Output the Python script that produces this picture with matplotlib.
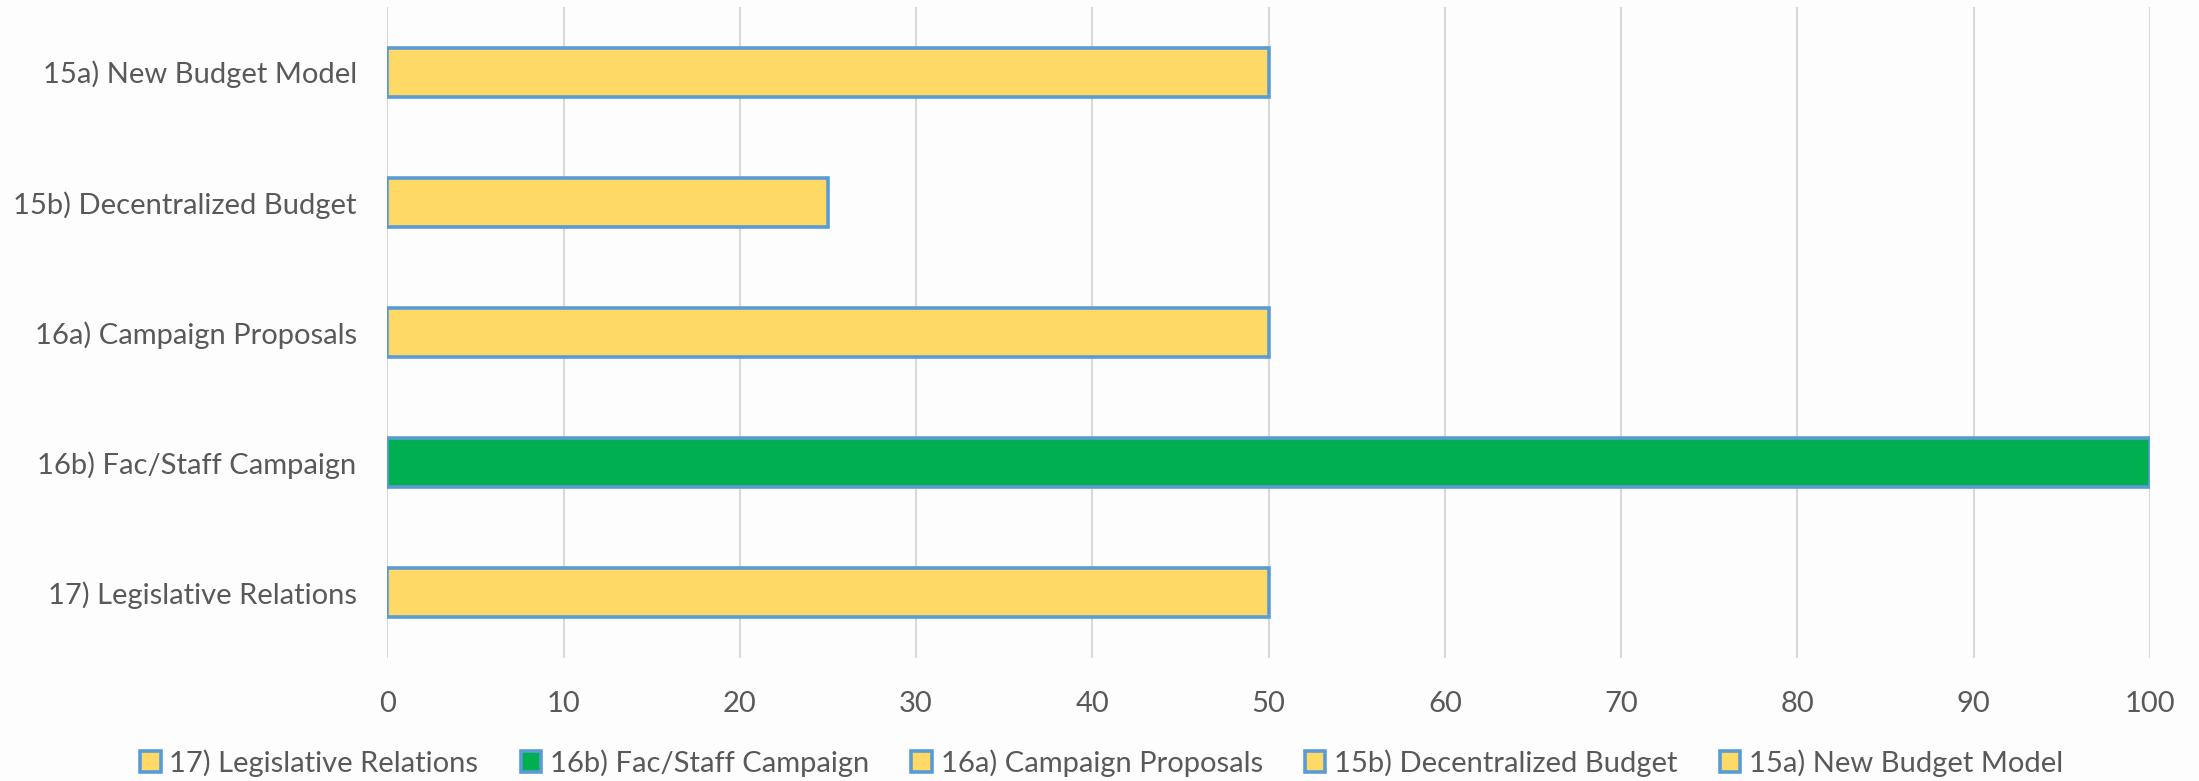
import matplotlib.pyplot as plt

# =========================
# DATA
# =========================

categories = ["17) Legislative Relations",
              "16b) Fac/Staff Campaign",
              "16a) Campaign Proposals",
              "15b) Decentralized Budget",
              "15a) New Budget Model"]

values = [50, 100, 50, 25, 50]

colors = ["#FFD966", "#00B050", "#FFD966", "#FFD966", "#FFD966"]

x_ticks = [0, 10, 20, 30, 40, 50, 60, 70, 80, 90, 100]

# =========================
# STYLE
# =========================

plt.rcParams['font.family'] = ['Lato', 'DejaVu Sans']
text_color = "#595959"
bg = "#FDFDFD"

fig = plt.figure(figsize=(21.99, 7.81), dpi=100)
fig.patch.set_facecolor(bg)

ax = fig.add_axes([0.1761, 0.1575, 0.8016, 0.8335])
ax.set_facecolor(bg)

# =========================
# BARS
# =========================

for i, (name, val, col) in enumerate(zip(categories, values, colors)):
    ax.barh(i, val, height=0.376, color=col,
            edgecolor="#5B9BD5", linewidth=2.6,
            label=name, zorder=3)

ax.set_xlim(0, 100)
ax.set_ylim(-0.5, len(categories) - 0.5)

ax.set_xticks(x_ticks)
ax.set_yticks(range(len(categories)))
ax.set_yticklabels(categories)

ax.grid(axis='x', color="#D9D9D9", linewidth=1.5, zorder=0)
ax.tick_params(axis='both', length=0, labelsize=21, colors=text_color)
ax.tick_params(axis='x', pad=24)
ax.tick_params(axis='y', pad=22)

for s in ax.spines.values():
    s.set_visible(False)

# =========================
# LEGEND
# =========================

leg = fig.legend(loc='center', bbox_to_anchor=(0.501, 0.023),
                 ncol=5, frameon=False, fontsize=21,
                 handlelength=0.7, handleheight=0.7,
                 handletextpad=0.3, columnspacing=1.45,
                 borderaxespad=0, borderpad=0)
for t in leg.get_texts():
    t.set_color(text_color)

fig.savefig("out.png", dpi=100, facecolor=bg)
plt.close()
